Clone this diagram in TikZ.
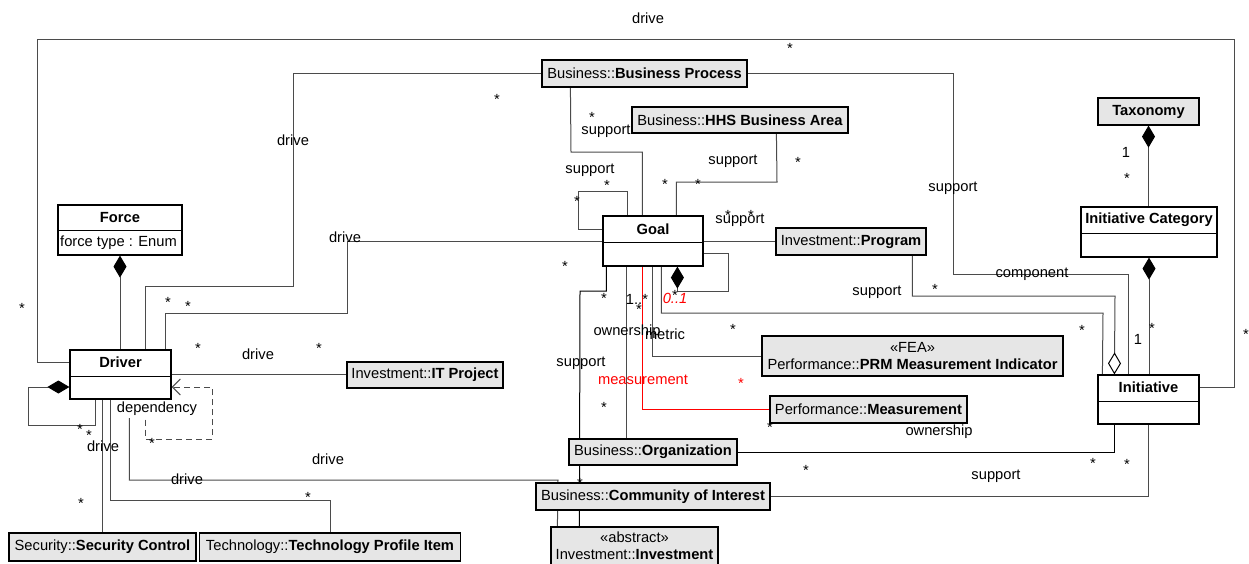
\documentclass[tikz,border=0pt]{standalone}
\usepackage{fontspec}
\setmainfont{Liberation Sans}
\usetikzlibrary{arrows.meta,backgrounds}
\definecolor{boxgray}{RGB}{230,230,230}
\definecolor{linegray}{RGB}{75,75,75}
\begin{document}
\begin{tikzpicture}[x=1pt,y=-1pt,
  every node/.style={font=\fontsize{14.7}{17}\selectfont, inner sep=0pt},
  ttl/.style={font=\fontsize{14.7}{17}\selectfont\bfseries},
  ibox/.style={draw=black, line width=1.2pt, fill=boxgray, align=center},
  cbox/.style={draw=black, line width=1.2pt, fill=white},
  divline/.style={draw=black, line width=1.2pt},
  conn/.style={draw=linegray, line width=1pt},
  redconn/.style={draw=red, line width=0.8pt},
  comp/.style={{Diamond[length=22pt,width=13pt,black]}-},
  agg/.style={-{Diamond[open,length=22pt,width=13pt,fill=white,black]}},
  dep/.style={dash pattern=on 6pt off 4pt, -{Straight Barb[length=8pt,width=16pt]}},
  st/.style={anchor=base, yshift=-8.4pt},
  redlbl/.style={text=red}]
\useasboundingbox (0,0) rectangle (1249,563);

% ---------- classes ----------
\node[cbox, minimum width=124pt, minimum height=50pt] (force) at (120,230) {};
\draw[divline] ([yshift=-26pt]force.north west) -- ([yshift=-26pt]force.north east);
\node[ttl] (forceT) at (120,218) {Force};
\node[anchor=west] (forceAttr) at (60,243) {force type : Enum};

\node[cbox, minimum width=101pt, minimum height=49pt] (driver) at (120.5,374.5) {};
\draw[divline] ([yshift=-27pt]driver.north west) -- ([yshift=-27pt]driver.north east);
\node[ttl] (driverT) at (120.5,362) {Driver};

\node[cbox, minimum width=100pt, minimum height=50pt] (goal) at (653,241) {};
\draw[divline] ([yshift=-27pt]goal.north west) -- ([yshift=-27pt]goal.north east);
\node[ttl] (goalT) at (653,229) {Goal};

\node[cbox, minimum width=136pt, minimum height=50pt] (ic) at (1149,232) {};
\draw[divline] ([yshift=-27pt]ic.north west) -- ([yshift=-27pt]ic.north east);
\node[ttl] (icT) at (1149,220) {Initiative Category};

\node[cbox, minimum width=101pt, minimum height=49pt] (init) at (1148.5,399.5) {};
\draw[divline] ([yshift=-27pt]init.north west) -- ([yshift=-27pt]init.north east);
\node[ttl] (initT) at (1148.5,387.5) {Initiative};

% ---------- referenced elements ----------
\node[ibox, minimum width=205pt, minimum height=27pt] (bp) at (644.5,73.5) {Business::\textbf{Business Process}};
\node[ibox, minimum width=216pt, minimum height=26pt] (hhs) at (740,120) {Business::\textbf{HHS Business Area}};
\node[ibox, minimum width=150pt, minimum height=27pt] (prog) at (851,241.5) {Investment::\textbf{Program}};
\node[ibox, minimum width=156pt, minimum height=26pt] (itp) at (425,375) {Investment::\textbf{IT Project}};
\node[ibox, minimum width=301pt, minimum height=40pt] (prm) at (912.5,356) {«FEA»\\Performance::\textbf{PRM Measurement Indicator}};
\node[ibox, minimum width=197pt, minimum height=27pt] (meas) at (868.5,409.5) {Performance::\textbf{Measurement}};
\node[ibox, minimum width=168pt, minimum height=26pt] (org) at (653,452) {Business::\textbf{Organization}};
\node[ibox, minimum width=234pt, minimum height=27pt] (coi) at (653,496.5) {Business::\textbf{Community of Interest}};
\node[ibox, minimum width=167pt, minimum height=45pt] (inv) at (634.5,549.5) {};
\node[align=center] (invT) at (634.5,546) {«abstract»\\Investment::\textbf{Investment}};
\node[ibox, minimum width=187pt, minimum height=28pt] (sec) at (102.5,547) {Security::\textbf{Security Control}};
\node[ibox, minimum width=261pt, minimum height=28pt] (tech) at (330,547) {Technology::\textbf{Technology Profile Item}};
\node[ibox, minimum width=101pt, minimum height=27pt] (tax) at (1148.5,111.5) {\textbf{Taxonomy}};

% ---------- connection ports ----------
\coordinate (dT1) at ([xshift=76pt]driver.north west);
\coordinate (dT2) at ([xshift=96pt]driver.north west);
\coordinate (dB0) at ([xshift=26pt]driver.south west);
\coordinate (dB1) at ([xshift=33pt]driver.south west);
\coordinate (dB2) at ([xshift=41pt]driver.south west);
\coordinate (dB3) at ([xshift=60pt]driver.south west);
\coordinate (dB4) at ([xshift=76pt]driver.south west);
\coordinate (gT1) at ([xshift=25pt]goal.north west);
\coordinate (gT2) at ([xshift=40pt]goal.north west);
\coordinate (gT3) at ([xshift=74pt]goal.north west);
\coordinate (gB1) at ([xshift=4pt]goal.south west);
\coordinate (gB2) at ([xshift=24pt]goal.south west);
\coordinate (gB3) at ([xshift=40pt]goal.south west);
\coordinate (gB4) at ([xshift=50pt]goal.south west);
\coordinate (gB5) at ([xshift=59pt]goal.south west);
\coordinate (gBd) at ([xshift=75pt]goal.south west);
\coordinate (bpP) at ([xshift=29pt]bp.south west);
\coordinate (hhsP) at ([xshift=145pt]hhs.south west);
\coordinate (prP) at ([xshift=137pt]prog.south west);
\coordinate (invP1) at ([xshift=7pt]inv.north west);
\coordinate (invP2) at ([xshift=29pt]inv.north west);
\coordinate (iN1) at ([xshift=5pt]init.north west);
\coordinate (iN2) at ([xshift=17pt]init.north west);
\coordinate (iN3) at ([xshift=31pt]init.north west);
\coordinate (iS1) at ([xshift=17pt]init.south west);

% ---------- connectors ----------
\begin{scope}[on background layer]
  \draw[conn] (driverT -| driver.west) -| (37,39) -- (1234,39) |- (initT -| init.east);
  \draw[conn] (dT1) |- (293,286) |- (bp.west);
  \draw[conn] (dT2) |- (347,313) |- (goal.west);
  \draw[conn] (driver.east) -- (driver.east -| itp.west);
  \draw[conn, dep] (dB4) |- (212,439) |- ([yshift=-12.5pt]driver.east);
  \draw[conn, comp] ([yshift=-12.5pt]driver.west) -| (28,425) -| (dB0);
  \draw[conn] (dB1) -- (dB1 |- sec.north);
  \draw[conn] (dB2) |- (330,500) -- (tech.north);
  \draw[conn] (dB3) |- (558,480) -- (invP1);
  \draw[conn, comp] (force.south) -- (force.south |- driver.north);

  \draw[conn] (gT1) |- (578,191) |- ([yshift=12pt]goal.west);
  \draw[conn] (gT2) |- (571,152) -- (bpP);
  \draw[conn] (gT3) |- (777,182) -- (hhsP);
  \draw[conn] (goal.east) -- (goal.east -| prog.west);
  \draw[conn, comp] (gBd) |- (728,291) |- ([yshift=-12pt]goal.east);
  \draw[conn, draw=black] (gB1) |- (580,291) -- (invP2);
  \draw[conn] (gB2) -- (gB2 |- org.north);
  \draw[redconn] (gB3) |- (meas.west);
  \draw[conn] (gB4) |- (prm.west);
  \draw[conn] (gB5) |- (1103,313) -- (iN1);

  \draw[conn, agg] (prP) |- (1115,296) -- (iN2);
  \draw[conn] (bp.east) -| (953,274) -| (iN3);
  \draw[conn, comp] (ic.south) -- (ic.south |- init.north);
  \draw[conn, comp] (tax.south) -- (tax.south |- ic.north);
  \draw[conn, draw=black] (org.east) -| (iS1);
  \draw[conn] (coi.east) -| (init.south);
\end{scope}

% ---------- association labels ----------
\node (l1) at (648,18) {drive};
\node (l2) at (293,140) {drive};
\node (l3) at (345,237) {drive};
\node (l4) at (258,354) {drive};
\node[fill=white, inner ysep=2pt] (l5) at (157,409) {dependency};
\node (l6) at (103,446) {drive};
\node (l7) at (187,479) {drive};
\node (l8) at (328,459) {drive};
\node (l9) at (590,170) {support};
\node (l10) at (606,131) {support};
\node (l11) at (733,161) {support};
\node (l12) at (740,220) {support};
\node (l13) at (953,188) {support};
\node (l14) at (1032,274) {component};
\node (l15) at (877,292) {support};
\node (l16) at (627,332) {ownership};
\node (l17) at (665,334) {metric};
\node (l18) at (581,363) {support};
\node[redlbl] (l19) at (643,380) {measurement};
\node (l20) at (939,432) {ownership};
\node (l21) at (996,476) {support};

% ---------- multiplicities ----------
\node (m1) at (637,299) {1..*};
\node[redlbl, font=\fontsize{14.7}{17}\selectfont\itshape] (m2) at (675,298) {0..1};
\node (m3) at (1126,152) {1};
\node (m4) at (1138,339) {1};
\foreach \px/\py [count=\i] in {
  790/45, 22/305, 1246/331, 497/96, 168/299, 188/303, 565/263, 198/345,
  319/345, 152/440, 80/426, 89/432, 81/500, 308/494, 607/182, 577/198,
  592/114, 665/181, 698/181, 798/159, 728/212, 751/212, 935/286, 733/326,
  1082/327, 1152/325, 1127/175, 675/292, 639/306, 604/295, 604/404,
  770/424, 1093/460, 1127/461, 806/467, 580/480}
  \node[st] (s\i) at (\px,\py) {*};
\node[st, redlbl] (sr) at (741,380) {*};
\end{tikzpicture}
\end{document}
